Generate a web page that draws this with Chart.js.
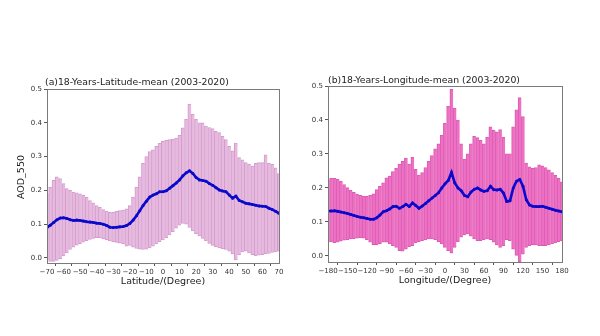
<!DOCTYPE html>
<html>
<head>
<meta charset="utf-8">
<script src="https://cdn.jsdelivr.net/npm/chart.js@4.4.1/dist/chart.umd.min.js"></script>
<style>
  html, body { margin: 0; padding: 0; background: #ffffff; }
  #wrap { position: relative; width: 600px; height: 336px; overflow: hidden; background: #fff; }
  canvas { position: absolute; top: 0; }
</style>
</head>
<body>
<div id="wrap">
  <canvas id="c1" width="300" height="336" style="left:0px"></canvas>
  <canvas id="c2" width="300" height="336" style="left:300px"></canvas>
</div>
<script>
// ---------- Panel (a): latitude ----------
const latCategories = [-70,-68,-66,-64,-62,-60,-58,-56,-54,-52,-50,-48,-46,-44,-42,-40,-38,-36,-34,-32,-30,-28,-26,-24,-22,-20,-18,-16,-14,-12,-10,-8,-6,-4,-2,0,2,4,6,8,10,12,14,16,18,20,22,24,26,28,30,32,34,36,38,40,42,44,46,48,50,52,54,56,58,60,62,64,66,68,70];
const latUpper = [0.19,0.21,0.23,0.24,0.235,0.22,0.205,0.2,0.195,0.193,0.19,0.185,0.18,0.17,0.163,0.155,0.15,0.143,0.138,0.135,0.135,0.138,0.14,0.142,0.145,0.155,0.18,0.21,0.24,0.28,0.3,0.315,0.32,0.33,0.34,0.345,0.348,0.35,0.352,0.355,0.363,0.385,0.41,0.455,0.425,0.41,0.4,0.4,0.39,0.386,0.383,0.375,0.371,0.36,0.35,0.33,0.317,0.34,0.297,0.29,0.282,0.277,0.272,0.28,0.282,0.282,0.305,0.28,0.277,0.267,0.25];
const latMean = [0.09,0.097,0.105,0.113,0.118,0.119,0.117,0.113,0.111,0.112,0.111,0.109,0.107,0.106,0.105,0.103,0.102,0.1,0.096,0.091,0.09,0.091,0.092,0.093,0.096,0.102,0.112,0.125,0.14,0.155,0.168,0.18,0.186,0.19,0.196,0.196,0.199,0.206,0.214,0.222,0.231,0.243,0.252,0.258,0.25,0.238,0.231,0.229,0.227,0.22,0.215,0.208,0.201,0.198,0.196,0.186,0.177,0.183,0.17,0.166,0.162,0.16,0.158,0.156,0.154,0.153,0.152,0.147,0.143,0.138,0.132];
const latLower = [-0.005,-0.01,-0.01,-0.007,-0.002,0.006,0.015,0.025,0.032,0.038,0.042,0.047,0.051,0.055,0.058,0.06,0.06,0.057,0.053,0.05,0.048,0.046,0.044,0.042,0.035,0.037,0.032,0.028,0.026,0.025,0.026,0.03,0.035,0.042,0.048,0.053,0.06,0.068,0.078,0.088,0.097,0.102,0.1,0.09,0.08,0.072,0.065,0.058,0.05,0.043,0.037,0.033,0.03,0.027,0.025,0.02,0.012,-0.006,0.01,0.018,0.02,0.015,0.01,0.006,0.008,0.01,0.012,0.013,0.016,0.018,0.02];
const latTicks = [-70,-60,-50,-40,-30,-20,-10,0,10,20,30,40,50,60,70];

// ---------- Panel (b): longitude ----------
const lonCategories = [-180,-175,-170,-165,-160,-155,-150,-145,-140,-135,-130,-125,-120,-115,-110,-105,-100,-95,-90,-85,-80,-75,-70,-65,-60,-55,-50,-45,-40,-35,-30,-25,-20,-15,-10,-5,0,5,10,15,20,25,30,35,40,45,50,55,60,65,70,75,80,85,90,95,100,105,110,115,120,125,130,135,140,145,150,155,160,165,170,175,180];
const lonUpper = [0.224,0.228,0.228,0.226,0.22,0.21,0.201,0.193,0.187,0.182,0.178,0.176,0.175,0.178,0.183,0.195,0.205,0.215,0.23,0.235,0.248,0.258,0.27,0.278,0.288,0.27,0.29,0.255,0.238,0.245,0.26,0.278,0.295,0.315,0.33,0.355,0.39,0.44,0.49,0.435,0.4,0.33,0.285,0.3,0.33,0.352,0.348,0.34,0.33,0.35,0.38,0.37,0.365,0.372,0.35,0.3,0.3,0.38,0.43,0.466,0.41,0.273,0.262,0.258,0.26,0.268,0.265,0.26,0.253,0.245,0.237,0.228,0.218];
const lonMean = [0.132,0.132,0.133,0.131,0.129,0.127,0.125,0.122,0.119,0.116,0.114,0.112,0.11,0.108,0.108,0.112,0.12,0.13,0.133,0.138,0.145,0.146,0.14,0.145,0.152,0.145,0.156,0.148,0.14,0.147,0.154,0.162,0.17,0.178,0.186,0.2,0.212,0.222,0.246,0.215,0.2,0.192,0.178,0.174,0.188,0.196,0.2,0.194,0.19,0.192,0.205,0.195,0.194,0.196,0.185,0.16,0.162,0.2,0.22,0.225,0.205,0.165,0.15,0.146,0.145,0.145,0.146,0.143,0.14,0.137,0.134,0.132,0.13];
const lonLower = [0.04,0.041,0.039,0.04,0.043,0.046,0.048,0.05,0.051,0.052,0.053,0.052,0.048,0.04,0.033,0.033,0.036,0.04,0.04,0.035,0.03,0.025,0.015,0.014,0.02,0.027,0.03,0.038,0.042,0.045,0.047,0.05,0.05,0.048,0.042,0.035,0.025,0.015,0.008,0.025,0.042,0.055,0.062,0.065,0.058,0.05,0.045,0.045,0.048,0.05,0.048,0.04,0.032,0.025,0.03,0.048,0.045,0.02,0.0,-0.018,0.005,0.025,0.03,0.033,0.032,0.03,0.03,0.03,0.032,0.035,0.038,0.042,0.045];
const lonTicks = [-180,-150,-120,-90,-60,-30,0,30,60,90,120,150,180];

const yTicks = [0.0,0.1,0.2,0.3,0.4,0.5];

const FONT = '"DejaVu Sans", "Liberation Sans", sans-serif';

function textPlugin(cfg) {
  return {
    id: 'texts',
    afterDraw(chart) {
      const ctx = chart.ctx;
      const a = chart.chartArea;
      ctx.save();
      ctx.strokeStyle = '#7a7a7a';
      ctx.lineWidth = 1;
      ctx.strokeRect(Math.round(a.left) + 0.5, Math.round(a.top) + 0.5, Math.round(a.right - a.left), Math.round(a.bottom - a.top));
      ctx.fillStyle = '#222';
      ctx.font = '9.3px ' + FONT;
      ctx.textAlign = 'left';
      ctx.textBaseline = 'alphabetic';
      ctx.fillText(cfg.title, cfg.titleX, cfg.titleY);
      ctx.textAlign = 'center';
      ctx.textBaseline = 'middle';
      ctx.font = '9.5px ' + FONT;
      ctx.fillText(cfg.xLabel, (a.left + a.right) / 2, cfg.xLabelY);
      if (cfg.yLabel) {
        ctx.save();
        ctx.translate(cfg.yLabelX, cfg.yLabelY);
        ctx.rotate(-Math.PI / 2);
        ctx.fillText(cfg.yLabel, 0, 0);
        ctx.restore();
      }
      ctx.restore();
    }
  };
}

function makeChart(id, o) {
  const bars = o.cats.map((x, i) => ({ x: x, y: [o.lower[i], o.upper[i]] }));
  const means = o.cats.map((x, i) => ({ x: x, y: o.mean[i] }));
  return new Chart(document.getElementById(id), {
    type: 'bar',
    data: {
      datasets: [
        {
          type: 'line',
          data: means,
          borderColor: '#0a0acc',
          backgroundColor: '#0a0acc',
          borderWidth: 2.6,
          pointRadius: 1.5,
          pointBorderWidth: 0,
          tension: 0,
          order: 0
        },
        {
          type: 'bar',
          data: bars,
          backgroundColor: o.barColor,
          borderColor: o.edgeColor,
          borderWidth: { left: 1, right: 0, top: 1, bottom: 1 },
          borderSkipped: false,
          barPercentage: 1,
          categoryPercentage: 1,
          grouped: false,
          order: 1
        }
      ]
    },
    options: {
      responsive: false,
      animation: false,
      events: [],
      layout: { padding: o.padding },
      plugins: { legend: { display: false }, tooltip: { enabled: false }, title: { display: false } },
      scales: {
        x: {
          type: 'linear',
          min: o.xmin, max: o.xmax,
          offset: false,
          afterBuildTicks: s => { s.ticks = o.xTicks.map(v => ({ value: v })); },
          afterFit: s => { s.height = 15; },
          ticks: {
            autoSkip: false, maxRotation: 0, padding: 2, color: '#333',
            font: { size: 7, family: FONT },
            callback: v => String(v).replace('-', '\u2212')
          },
          grid: { display: true, drawOnChartArea: false, drawTicks: true, tickLength: 3, tickColor: '#555' },
          border: { display: true, color: '#7a7a7a' }
        },
        y: {
          min: o.ymin, max: 0.5,
          afterBuildTicks: s => { s.ticks = yTicks.map(v => ({ value: v })); },
          afterFit: s => { s.width = 20; },
          ticks: {
            padding: 2, color: '#333',
            font: { size: 7, family: FONT },
            callback: v => Number(v).toFixed(1)
          },
          grid: { display: true, drawOnChartArea: false, drawTicks: true, tickLength: 3, tickColor: '#555' },
          border: { display: true, color: '#7a7a7a' }
        }
      }
    },
    plugins: [textPlugin(o.text)]
  });
}

makeChart('c1', {
  cats: latCategories, upper: latUpper, mean: latMean, lower: latLower,
  xmin: -70, xmax: 70, xTicks: latTicks, ymin: -0.015,
  barColor: '#e6b9df', edgeColor: '#d49bcc',
  padding: { left: 27, right: 21, top: 89, bottom: 58 },
  text: { title: '(a)18-Years-Latitude-mean (2003-2020)', titleX: 45, titleY: 85,
          xLabel: 'Latitude/(Degree)', xLabelY: 281.5,
          yLabel: 'AOD_550', yLabelX: 22, yLabelY: 177 }
});

makeChart('c2', {
  cats: lonCategories, upper: lonUpper, mean: lonMean, lower: lonLower,
  xmin: -180, xmax: 180, xTicks: lonTicks, ymin: -0.018,
  barColor: '#ee70c4', edgeColor: '#d95bb0',
  padding: { left: 8, right: 38, top: 86, bottom: 59 },
  text: { title: '(b)18-Years-Longitude-mean (2003-2020)', titleX: 28, titleY: 83,
          xLabel: 'Longitude/(Degree)', xLabelY: 281 }
});
</script>
</body>
</html>
